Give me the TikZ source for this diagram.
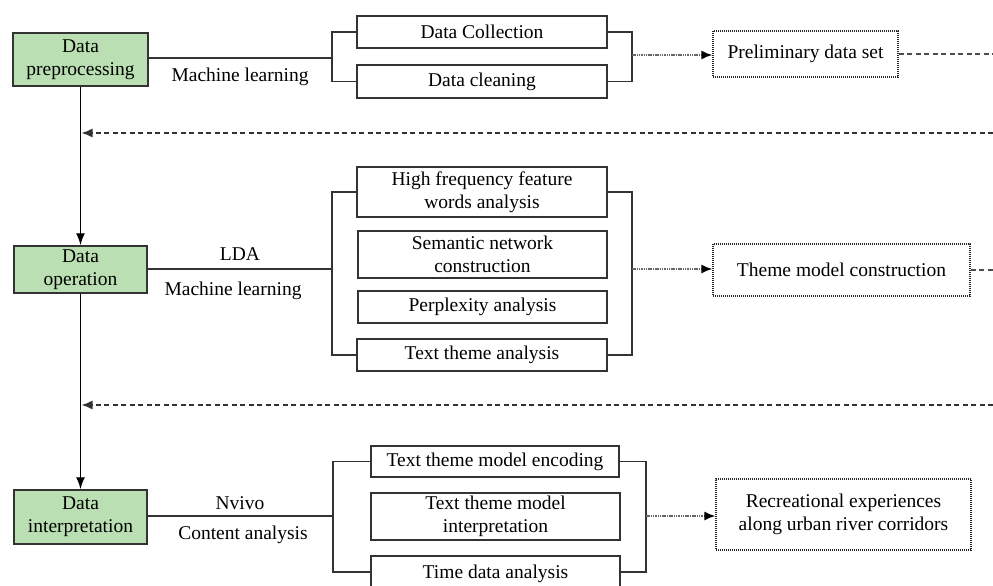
\documentclass[tikz,border=0pt]{standalone}
\usepackage{fontspec}
\setmainfont{Liberation Serif}
\usetikzlibrary{arrows.meta}
\definecolor{stepgreen}{RGB}{186,223,178}
\tikzset{
  basefont/.style={font=\fontsize{19.5}{23}\selectfont},
  greenbox/.style={basefont, draw=black!80, fill=stepgreen, line width=1.5pt, align=center, inner sep=0pt},
  taskbox/.style={basefont, draw=black!80, fill=white, line width=1.5pt, align=center, inner sep=0pt},
  outbox/.style={basefont, draw=black!85, line width=1.2pt, dash pattern=on 1pt off 1pt, align=center, inner sep=0pt},
  lbl/.style={basefont, inner sep=0pt},
  wire/.style={draw=black!80, line width=1.5pt},
  flowarrow/.style={draw=black, line width=1.4pt, -{Latex[length=12pt,width=9pt]}},
  dotarrow/.style={draw=black!60, line width=1.8pt, dash pattern=on 1.5pt off 0.8pt, -{Latex[length=11pt,width=9pt,fill=black,color=black]}},
  dashline/.style={draw=black!70, line width=1.4pt, dash pattern=on 5pt off 3.5pt},
  dasharrow/.style={draw=black!80, line width=1.4pt, dash pattern=on 5pt off 3.5pt, -{Latex[length=11pt,width=9pt]}}
}
\begin{document}
\begin{tikzpicture}[x=1pt,y=-1pt]
\useasboundingbox (0,0) rectangle (993,586);
\clip (0,0) rectangle (993,586);
\fill[white] (0,0) rectangle (993,586);

% stage boxes
\node[greenbox, minimum width=135, minimum height=53] (pre) at (80.5,59.5) {Data\\preprocessing};
\node[greenbox, minimum width=133, minimum height=47] (op) at (80.5,269.5) {Data\\operation};
\node[greenbox, minimum width=133, minimum height=54] (int) at (80.5,517) {Data\\interpretation};

% top row
\node[taskbox, minimum width=250, minimum height=32] (dc) at (482,32) {Data Collection};
\node[taskbox, minimum width=250, minimum height=33] (cl) at (482,81.5) {Data cleaning};
\node[outbox, minimum width=185, minimum height=46] (pds) at (805.5,54) {Preliminary data set};
\node[lbl] (l1) at (240,77) {Machine learning};

% middle row
\node[taskbox, minimum width=250, minimum height=50] (hf) at (482,192) {High frequency feature\\words analysis};
\node[taskbox, minimum width=249, minimum height=47] (sn) at (482.5,254.5) {Semantic network\\construction};
\node[taskbox, minimum width=249, minimum height=32] (pa) at (482.5,307) {Perplexity analysis};
\node[taskbox, minimum width=250, minimum height=32] (tta) at (482,355) {Text theme analysis};
\node[outbox, minimum width=257, minimum height=52] (tmc) at (841.5,270) {Theme model construction};
\node[lbl] (l2) at (240,254) {LDA};
\node[lbl] (l3) at (233,291) {Machine learning};

% bottom row
\node[taskbox, minimum width=248, minimum height=31] (enc) at (495,461.5) {Text theme model encoding};
\node[taskbox, minimum width=249, minimum height=47] (tmi) at (495.5,516.5) {Text theme model\\interpretation};
\node[taskbox, minimum width=249, minimum height=32, text depth=0pt] (tda) at (495.5,572) {Time data analysis};
\node[outbox, minimum width=255, minimum height=71] (rec) at (843.5,514.5) {Recreational experiences\\along urban river corridors};
\node[lbl] (l4) at (240,503) {Nvivo};
\node[lbl] (l5) at (243,535) {Content analysis};

% junction coordinates
\coordinate (j1) at (332,58);
\coordinate (k1) at (632,55);
\coordinate (j2) at (332,269);
\coordinate (k2) at (632,269);
\coordinate (j3) at (333,516);
\coordinate (k3) at (646,516);
\coordinate (e1) at (993,54);
\coordinate (e2) at (993,270);
\coordinate (f1) at (993,133);
\coordinate (f2) at (993,405);
\coordinate (v1) at (81.5,133);
\coordinate (v2) at (81.5,405);

% top connectors
\draw[wire] (pre.east |- j1) -- (j1);
\draw[wire] (dc.west) -- (dc.west -| j1) -- (cl.west -| j1) -- (cl.west);
\draw[wire] (dc.east) -- (dc.east -| k1) -- (cl.east -| k1) -- (cl.east);
\draw[dotarrow] (k1) -- (pds.west |- k1);
\draw[dashline] (pds.east) -- (e1);

% middle connectors
\draw[wire] (op.east |- j2) -- (j2);
\draw[wire] (hf.west) -- (hf.west -| j2) -- (tta.west -| j2) -- (tta.west);
\draw[wire] (hf.east) -- (hf.east -| k2) -- (tta.east -| k2) -- (tta.east);
\draw[dotarrow] (k2) -- (tmc.west |- k2);
\draw[dashline] (tmc.east) -- (e2);

% bottom connectors
\draw[wire] (int.east |- j3) -- (j3);
\draw[wire] (enc.west) -- (enc.west -| j3) -- (tda.west -| j3) -- (tda.west);
\draw[wire] (enc.east) -- (enc.east -| k3) -- (tda.east -| k3) -- (tda.east);
\draw[dotarrow] (k3) -- (rec.west |- k3);

% vertical flow
\draw[flowarrow] (pre.south) -- (op.north);
\draw[flowarrow] (op.south) -- (int.north);

% feedback
\draw[dasharrow] (f1) -- (v1);
\draw[dasharrow] (f2) -- (v2);
\end{tikzpicture}
\end{document}
